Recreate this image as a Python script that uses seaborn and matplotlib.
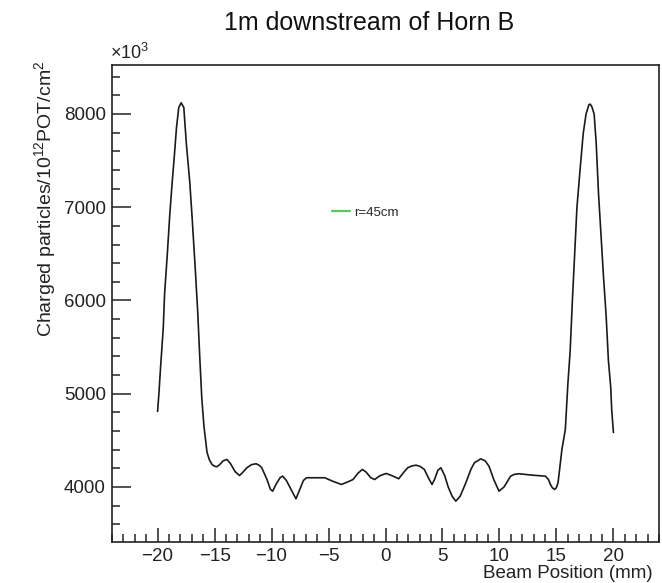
import numpy as np
import pandas as pd
import matplotlib
matplotlib.use("Agg")
import matplotlib.pyplot as plt
from matplotlib.lines import Line2D
from matplotlib.ticker import MultipleLocator
import seaborn as sns

# ---- data ----
beam_position_mm = [
    -20.0, -19.89, -19.74, -19.5, -19.39, -19.15, -18.93, -18.72, -18.52, -18.34,
    -18.14, -17.93, -17.7, -17.47, -17.18, -16.97, -16.68, -16.48, -16.31, -16.12,
    -15.93, -15.66, -15.45, -15.22, -15.0, -14.79, -14.55, -14.25, -13.91, -13.6,
    -13.2, -12.81, -12.5, -12.17, -11.75, -11.35, -11.05, -10.86, -10.4, -10.1,
    -9.9, -9.6, -9.25, -9.02, -8.7, -8.4, -8.1, -7.86, -7.5, -7.2,
    -6.93, -5.33, -4.6, -3.87, -3.3, -2.85, -2.4, -2.03, -1.7, -1.3,
    -0.96, -0.5, 0.06, 0.6, 1.16, 1.55, 1.95, 2.3, 2.68, 3.05,
    3.41, 3.8, 4.08, 4.3, 4.6, 4.86, 5.2, 5.5, 5.85, 6.17,
    6.55, 7.05, 7.5, 7.8, 8.36, 8.75, 9.08, 9.5, 9.96, 10.4,
    10.98, 11.3, 11.7, 12.86, 14.03, 14.3, 14.47, 14.65, 14.85, 15.0,
    15.14, 15.48, 15.78, 16.0, 16.2, 16.4, 16.6, 16.8, 17.1, 17.35,
    17.6, 17.85, 17.96, 18.1, 18.31, 18.49, 18.69, 18.89, 19.13, 19.36,
    19.56, 19.76, 19.85, 20.0,
]
charged_particles = [
    4810, 4990, 5280, 5710, 6060, 6490, 6920, 7265, 7566, 7855,
    8070, 8120, 8070, 7673, 7276, 6890, 6311, 5882, 5421, 4950,
    4650, 4370, 4290, 4241, 4222, 4217, 4240, 4280, 4295, 4250,
    4165, 4123, 4160, 4206, 4240, 4249, 4230, 4206, 4080, 3975,
    3955, 4030, 4100, 4116, 4070, 4000, 3930, 3873, 3980, 4070,
    4099, 4099, 4060, 4027, 4055, 4080, 4150, 4188, 4160, 4100,
    4080, 4120, 4145, 4120, 4088, 4150, 4206, 4225, 4234, 4220,
    4188, 4090, 4027, 4080, 4180, 4206, 4120, 4000, 3900, 3848,
    3900, 4045, 4190, 4260, 4302, 4280, 4223, 4080, 3955, 4000,
    4116, 4135, 4142, 4127, 4116, 4080, 4027, 3990, 3973, 3995,
    4045, 4402, 4617, 5100, 5450, 6000, 6500, 7000, 7440, 7790,
    8000, 8100, 8105, 8080, 7998, 7685, 7152, 6745, 6254, 5837,
    5357, 5075, 4831, 4584,
]
legend_label = "r=45cm"
x_ticks = [-20, -15, -10, -5, 0, 5, 10, 15, 20]
y_ticks = [4000, 5000, 6000, 7000, 8000]

df = pd.DataFrame({"x": beam_position_mm, "y": charged_particles})

sns.set_theme(style="white")
plt.rcParams["font.family"] = ["Liberation Sans", "DejaVu Sans"]
plt.rcParams["mathtext.fontset"] = "custom"
plt.rcParams["mathtext.rm"] = "Liberation Sans"
plt.rcParams["mathtext.it"] = "Liberation Sans:italic"
plt.rcParams["mathtext.bf"] = "Liberation Sans:bold"

fig = plt.figure(figsize=(6.62, 5.83), dpi=100)
ax = fig.add_axes([112 / 662, 1 - 542 / 583, (659 - 112) / 662, (542 - 65) / 583])

sns.lineplot(data=df, x="x", y="y", ax=ax, color="#1a1a1a", linewidth=1.2,
             sort=False, estimator=None, legend=False)

ax.set_xlim(-24, 24)
ax.set_ylim(3410, 8525)

ax.set_xticks(x_ticks)
ax.set_yticks(y_ticks)
ax.set_xticklabels([("\u2212" + str(abs(v))) if v < 0 else str(v) for v in x_ticks])
ax.xaxis.set_minor_locator(MultipleLocator(1))
ax.yaxis.set_minor_locator(MultipleLocator(200))

ax.tick_params(axis="x", which="major", direction="in", length=10, width=1.1,
               labelsize=13.5, pad=4.5, colors="#222222", bottom=True, top=False)
ax.tick_params(axis="x", which="minor", direction="in", length=5.5, width=1.1,
               bottom=True, top=False, colors="#222222")
ax.tick_params(axis="y", which="major", direction="in", length=13.5, width=1.1,
               labelsize=13.5, pad=4.5, colors="#222222", left=True, right=False)
ax.tick_params(axis="y", which="minor", direction="in", length=6, width=1.1,
               left=True, right=False, colors="#222222")

for s in ax.spines.values():
    s.set_visible(True)
    s.set_color("#222222")
    s.set_linewidth(1.2)

ax.set_xlabel("Beam Position (mm)", fontsize=13.5, color="#222222", ha="right")
ax.xaxis.set_label_coords(0.989, -0.049)
ax.set_ylabel(r"Charged particles/10$^{12}$POT/cm$^{2}$", fontsize=14,
              color="#222222", ha="right")
ax.yaxis.set_label_coords(-0.098, 1.01)

ax.text(-0.004, 1.004, r"$\times$10$^{3}$", transform=ax.transAxes, ha="left",
        va="bottom", fontsize=13, color="#222222")

fig.text(0.557, 1 - 23 / 583, "1m downstream of Horn B", ha="center", va="center",
         fontsize=18, color="#111111")

handle = Line2D([0], [0], color="#5cc85c", linewidth=1.6)
ax.legend([handle], [legend_label], loc="center left", bbox_to_anchor=(0.402, 0.69),
          frameon=False, fontsize=9.5, handlelength=1.4, handletextpad=0.25,
          borderpad=0, borderaxespad=0)

fig.savefig("out.png", dpi=100)
